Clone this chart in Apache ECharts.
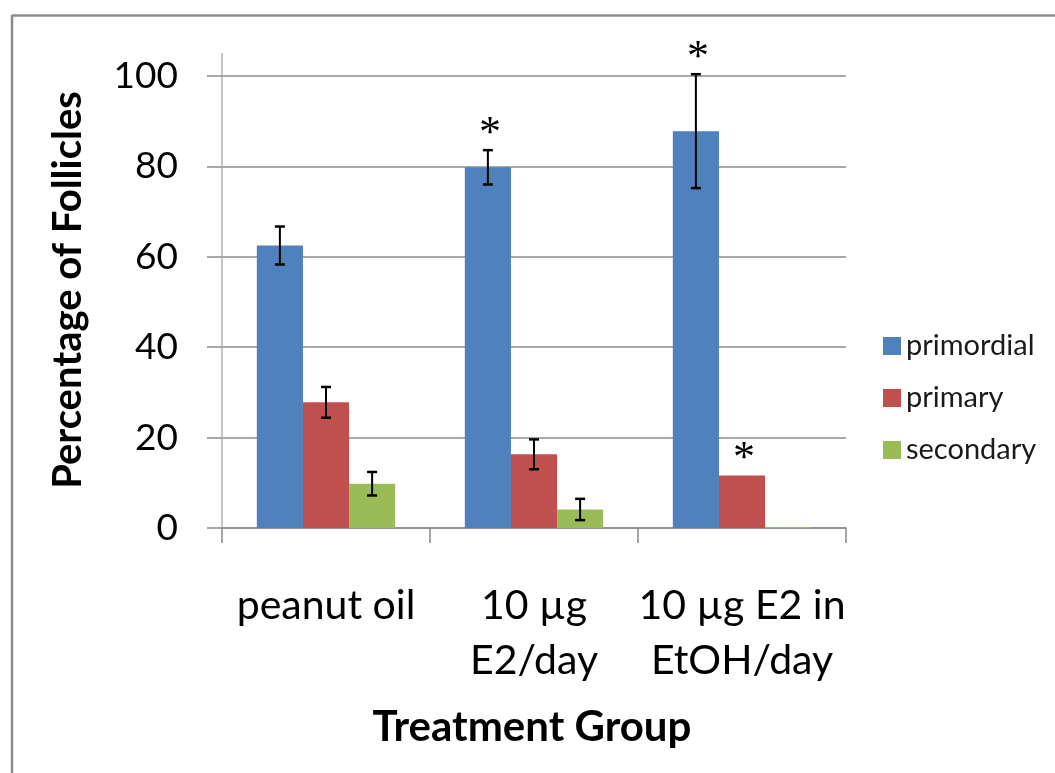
<!DOCTYPE html>
<html>
<head>
<meta charset="utf-8">
<script src="https://cdn.jsdelivr.net/npm/echarts@6/dist/echarts.min.js"></script>
<style>
html,body{margin:0;padding:0;background:#fff;}
#chart{width:1055px;height:773px;}
</style>
</head>
<body>
<div id="chart"></div>
<script>
const categories = ['peanut oil', '10 µg\nE2/day', '10 µg E2 in\nEtOH/day'];
const seriesNames = ['primordial', 'primary', 'secondary'];
const primordial = [62.5, 79.8, 87.8];
const primary = [27.8, 16.3, 11.6];
const secondary = [9.8, 4.1, 0.2];
const primordialErr = [4.2, 3.8, 12.6];
const primaryErr = [3.4, 3.3, 0];
const secondaryErr = [2.6, 2.35, 0];
const primordialSig = [0, 1, 1];
const primarySig = [0, 0, 1];
const secondarySig = [0, 0, 0];
const yTicks = [0, 20, 40, 60, 80, 100];

const colors = ['#4f81bd', '#c0504d', '#9bbb59'];
const GAP = 0.335;
const FONT = 'Lato, "Open Sans", sans-serif';

const chart = echarts.init(document.getElementById('chart'));

function errSeries(idx, vals, errs, sigs) {
  return {
    type: 'custom',
    name: seriesNames[idx] + ' err',
    z: 10,
    silent: true,
    renderItem: function (params, api) {
      const ci = api.value(0), v = api.value(1), e = api.value(2), s = api.value(3);
      const catW = api.size([1, 0])[0];
      const bw = catW * (1 - GAP) / 3;
      const c = api.coord([ci, v]);
      const x = c[0] + (idx - 1) * bw;
      const children = [];
      let top = c[1];
      if (e > 0) {
        const yT = api.coord([ci, v + e])[1];
        const yB = api.coord([ci, v - e])[1];
        top = yT;
        children.push({ type: 'line', shape: { x1: x, y1: yT, x2: x, y2: yB }, style: { stroke: '#000', lineWidth: 2 } });
        children.push({ type: 'line', shape: { x1: x - 5, y1: yT, x2: x + 5, y2: yT }, style: { stroke: '#000', lineWidth: 2.5 } });
        children.push({ type: 'line', shape: { x1: x - 5, y1: yB, x2: x + 5, y2: yB }, style: { stroke: '#000', lineWidth: 2.5 } });
      }
      if (s) {
        children.push({
          type: 'text',
          x: x + 2, y: top - 16,
          style: { text: '*', fill: '#000', font: '44px "Liberation Serif", serif', align: 'center', verticalAlign: 'middle' }
        });
      }
      return { type: 'group', children: children };
    },
    encode: { x: 0, y: 1 },
    data: vals.map((v, i) => [i, v, errs[i], sigs[i]])
  };
}

const barSeries = [primordial, primary, secondary].map((vals, i) => ({
  type: 'bar',
  name: seriesNames[i],
  data: vals,
  barGap: '0%',
  barCategoryGap: (GAP * 100) + '%',
  itemStyle: { color: colors[i] }
}));

chart.setOption({
  animation: false,
  backgroundColor: '#fff',
  color: colors,
  grid: { left: 222, right: 209, top: 76, bottom: 245 },
  legend: {
    orient: 'vertical',
    left: 883, top: 331, padding: 0,
    itemWidth: 18, itemHeight: 18, itemGap: 22,
    icon: 'rect',
    data: seriesNames,
    textStyle: { fontFamily: FONT, fontSize: 29, color: '#1a1a1a', lineHeight: 30 }
  },
  xAxis: {
    type: 'category',
    data: categories,
    axisLine: { lineStyle: { color: '#8c8c8c', width: 1.5 } },
    axisTick: { show: true, length: 15, lineStyle: { color: '#8c8c8c', width: 1.5 } },
    axisLabel: { fontFamily: FONT, fontSize: 41, color: '#000', lineHeight: 55, margin: 50, interval: 0 }
  },
  yAxis: {
    type: 'value',
    min: 0, max: 100, interval: 20,
    axisLine: { show: true, lineStyle: { color: '#b3b3b3', width: 1.5 } },
    axisTick: { show: true, length: 15, lineStyle: { color: '#8c8c8c', width: 1.5 } },
    splitLine: { lineStyle: { color: '#8c8c8c', width: 1.5 } },
    axisLabel: {
      fontFamily: FONT, fontSize: 37, color: '#000', margin: 44,
      formatter: function (v) { return yTicks.indexOf(v) >= 0 ? String(v) : ''; }
    }
  },
  graphic: [
    { type: 'line', shape: { x1: 12, y1: 15.5, x2: 1055, y2: 15.5 }, style: { stroke: '#8c8c8c', lineWidth: 2.5 } },
    { type: 'line', shape: { x1: 12, y1: 15, x2: 12, y2: 773 }, style: { stroke: '#8c8c8c', lineWidth: 2.5 } },
    { type: 'line', shape: { x1: 222, y1: 53, x2: 222, y2: 76 }, style: { stroke: '#b3b3b3', lineWidth: 1.5 } },
    {
      type: 'text', x: 68, y: 290, rotation: Math.PI / 2,
      style: { text: 'Percentage of Follicles', font: 'bold 40px ' + FONT, fill: '#000', align: 'center', verticalAlign: 'middle' }
    },
    {
      type: 'text', x: 532, y: 727,
      style: { text: 'Treatment Group', font: 'bold 42px ' + FONT, fill: '#000', align: 'center', verticalAlign: 'middle' }
    }
  ],
  series: barSeries.concat([
    errSeries(0, primordial, primordialErr, primordialSig),
    errSeries(1, primary, primaryErr, primarySig),
    errSeries(2, secondary, secondaryErr, secondarySig)
  ])
});
</script>
</body>
</html>
